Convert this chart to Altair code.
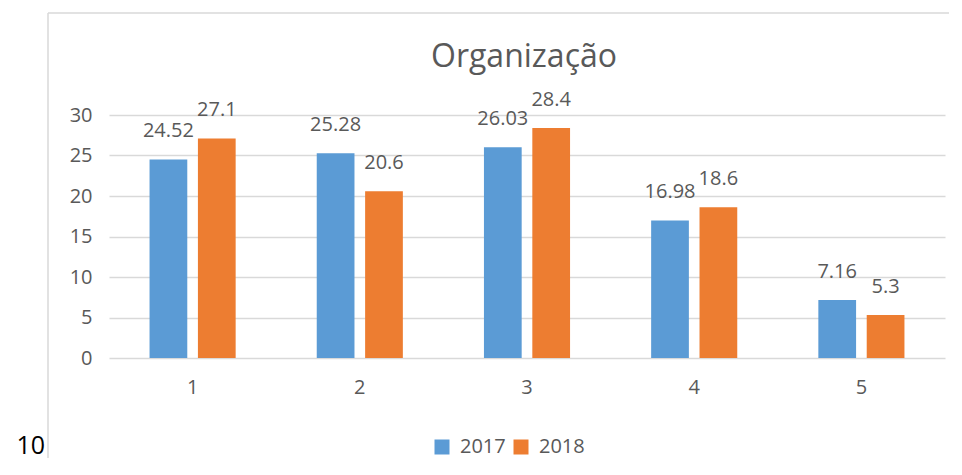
import altair as alt
import pandas as pd

categories = ["1", "2", "3", "4", "5"]
values_2017 = [24.52, 25.28, 26.03, 16.98, 7.16]
values_2018 = [27.1, 20.6, 28.4, 18.6, 5.3]
series = ["2017", "2018"]
colors = ["#5B9BD5", "#ED7D31"]
y_ticks = [0, 5, 10, 15, 20, 25, 30]
title_text = "Organização"
page_number = "10"

rows = []
for c, a, b in zip(categories, values_2017, values_2018):
    rows.append({"cat": c, "year": series[0], "value": a})
    rows.append({"cat": c, "year": series[1], "value": b})
df = pd.DataFrame(rows)

FONT = "Open Sans"
GREY = "#595959"
GRID = "#d9d9d9"

W, H = 836, 243
LEFT, TOP = 101, 107

x_enc = alt.X("cat:N", sort=categories, title=None,
              scale=alt.Scale(paddingInner=0.485, paddingOuter=0.2425),
              axis=alt.Axis(labelAngle=0, labelFontSize=20, labelColor=GREY, labelFont=FONT,
                            domain=False, ticks=False, grid=False, labelPadding=19))
xo_enc = alt.XOffset("year:N", sort=series, scale=alt.Scale(paddingInner=0.22, paddingOuter=0))
y_enc = alt.Y("value:Q", title=None,
              scale=alt.Scale(domain=[0, 30], nice=False),
              axis=alt.Axis(values=y_ticks, labelFontSize=20, labelColor=GREY, labelFont=FONT,
                            domain=False, ticks=False, labelPadding=17,
                            gridColor=GRID, gridWidth=1.5))

bars = alt.Chart(df).mark_bar().encode(
    x=x_enc, xOffset=xo_enc, y=y_enc,
    color=alt.Color("year:N", sort=series, title=None,
                    scale=alt.Scale(domain=series, range=colors),
                    legend=alt.Legend(orient="none", direction="horizontal",
                                      legendX=323, legendY=322,
                                      symbolType="square", symbolSize=225,
                                      symbolStrokeWidth=0,
                                      labelFontSize=20, labelColor=GREY, labelFont=FONT,
                                      labelOffset=8, columnPadding=5)),
)

labels = alt.Chart(df).mark_text(fontSize=20, font=FONT, color=GREY, dy=-22,
                                 baseline="alphabetic").encode(
    x=x_enc, xOffset=xo_enc, y=y_enc, text=alt.Text("value:Q"),
)

title = alt.Chart(pd.DataFrame({"t": [title_text]})).mark_text(
    fontSize=32, font=FONT, color=GREY, baseline="alphabetic", align="center"
).encode(x=alt.value(415), y=alt.value(-48), text="t:N")

pnum = alt.Chart(pd.DataFrame({"t": [page_number]})).mark_text(
    fontSize=25, font=FONT, color="#000000", baseline="alphabetic", align="right"
).encode(x=alt.value(-64), y=alt.value(339), text="t:N")

left_border = alt.Chart(pd.DataFrame({"a": [0]})).mark_rule(color=GRID, strokeWidth=1.5).encode(
    x=alt.value(-61), y=alt.value(-102), y2=alt.value(380))
top_border = alt.Chart(pd.DataFrame({"a": [0]})).mark_rule(color=GRID, strokeWidth=1.5).encode(
    x=alt.value(-61), x2=alt.value(860), y=alt.value(-102))

chart = alt.layer(left_border, top_border, bars, labels, title, pnum).properties(
    width=W, height=H,
    background="white",
    autosize=alt.AutoSizeParams(type="none"),
    padding={"left": LEFT, "top": TOP, "right": 4, "bottom": 100},
).configure_view(strokeWidth=0, stroke="transparent")

chart.save("out.html", embed_options={"renderer": "svg", "actions": False})
